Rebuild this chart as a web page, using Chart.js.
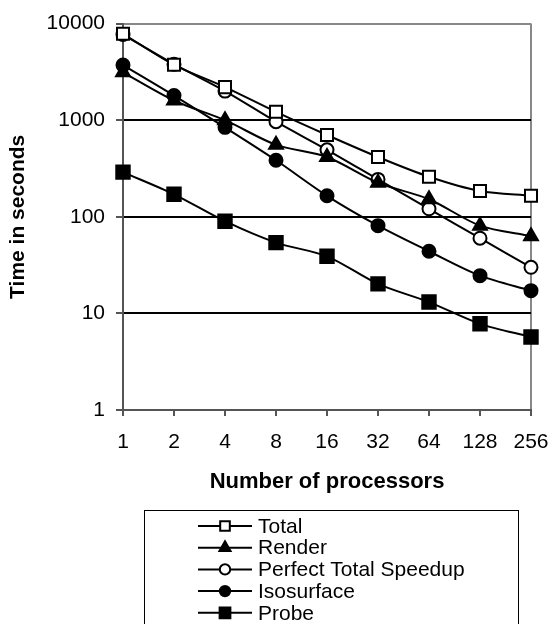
<!DOCTYPE html>
<html>
<head>
<meta charset="utf-8">
<script src="https://cdn.jsdelivr.net/npm/chart.js@4"></script>
<style>
  html, body { margin: 0; padding: 0; background: #fff; }
  #wrap { width: 551px; height: 624px; }
</style>
</head>
<body>
<div id="wrap"><canvas id="speedChart" width="551" height="624"></canvas></div>
<script>
// values
const processors = ['1', '2', '4', '8', '16', '32', '64', '128', '256'];
const totalTimes = [7850, 3740, 2200, 1220, 703, 416, 260, 185, 165];
const renderTimes = [3130, 1600, 1000, 556, 416, 225, 152, 81, 63];
const perfectTimes = [7700, 3800, 2000, 965, 494, 244, 121, 60, 30];
const isoTimes = [3720, 1800, 843, 385, 165, 81, 44, 24.6, 17.2];
const probeTimes = [290, 171, 90, 54, 39, 20.2, 13.1, 7.8, 5.7];
const yTicks = [1, 10, 100, 1000, 10000];

const FONT = 'Arial, "Liberation Sans", sans-serif';

function series(label, data, style, radius, fill) {
    return {
        label: label,
        data: data,
        borderColor: '#000',
        borderWidth: 2,
        pointStyle: style,
        pointRadius: radius,
        pointHoverRadius: radius,
        pointBorderWidth: 2,
        pointBorderColor: '#000',
        pointBackgroundColor: fill,
        tension: 0.3,
        clip: false
    };
}

// boxed legend with line + marker samples, like the original
const boxLegend = {
    id: 'boxLegend',
    afterDraw(chart) {
        const ctx = chart.ctx;
        ctx.save();
        ctx.strokeStyle = '#000';
        ctx.lineWidth = 1;
        ctx.strokeRect(144.5, 510.5, 374, 130);
        chart.data.datasets.forEach((ds, i) => {
            const y = 526 + i * 21.7;
            ctx.strokeStyle = '#000';
            ctx.lineWidth = 2;
            ctx.beginPath();
            ctx.moveTo(198, y);
            ctx.lineTo(252, y);
            ctx.stroke();
            ctx.fillStyle = ds.pointBackgroundColor;
            ctx.lineWidth = 2;
            Chart.helpers.drawPoint(ctx, {
                pointStyle: ds.pointStyle,
                radius: ds.pointRadius * 0.8,
                borderWidth: 2,
                rotation: 0
            }, 225, y);
            ctx.fillStyle = '#000';
            ctx.font = '21px ' + FONT;
            ctx.textBaseline = 'middle';
            ctx.textAlign = 'left';
            ctx.fillText(ds.label, 258, y + 1);
        });
        ctx.restore();
    }
};

new Chart(document.getElementById('speedChart'), {
    type: 'line',
    data: {
        labels: processors,
        datasets: [
            series('Total', totalTimes, 'rect', 8.5, '#fff'),
            series('Render', renderTimes, 'triangle', 8, '#000'),
            series('Perfect Total Speedup', perfectTimes, 'circle', 6.5, '#fff'),
            series('Isosurface', isoTimes, 'circle', 6.5, '#000'),
            series('Probe', probeTimes, 'rect', 9.5, '#000')
        ]
    },
    options: {
        responsive: false,
        animation: false,
        layout: { padding: { left: 0, top: 19, right: 20, bottom: 114 } },
        plugins: {
            legend: { display: false },
            tooltip: { enabled: false }
        },
        scales: {
            x: {
                type: 'category',
                offset: false,
                afterFit: s => { s.height = 100; s.paddingRight = 0; },
                border: { color: '#555', width: 2 },
                grid: {
                    color: c => c.index === processors.length - 1 ? '#888' : 'rgba(0,0,0,0)',
                    lineWidth: 2,
                    tickColor: '#555',
                    tickLength: 6
                },
                ticks: {
                    color: '#000',
                    padding: 14,
                    maxRotation: 0,
                    font: { family: FONT, size: 21 }
                },
                title: {
                    display: true,
                    text: 'Number of processors',
                    color: '#000',
                    padding: { top: 15, bottom: 15 },
                    font: { family: FONT, size: 22, weight: 'bold' }
                }
            },
            y: {
                type: 'logarithmic',
                min: 1,
                max: 10000,
                afterFit: s => { s.width = 123; },
                afterBuildTicks: s => { s.ticks = yTicks.map(v => ({ value: v })); },
                border: { color: '#555', width: 2 },
                grid: {
                    color: c => c.tick.value === 10000 ? '#888' : (c.tick.value === 1 ? 'rgba(0,0,0,0)' : '#000'),
                    lineWidth: 2,
                    tickColor: '#555',
                    tickLength: 7
                },
                ticks: {
                    color: '#000',
                    padding: 11,
                    font: { family: FONT, size: 21 },
                    callback: v => String(v)
                },
                title: {
                    display: true,
                    text: 'Time in seconds',
                    color: '#000',
                    padding: { top: 6, bottom: 0 },
                    font: { family: FONT, size: 21, weight: 'bold' }
                }
            }
        }
    },
    plugins: [boxLegend]
});
</script>
</body>
</html>
